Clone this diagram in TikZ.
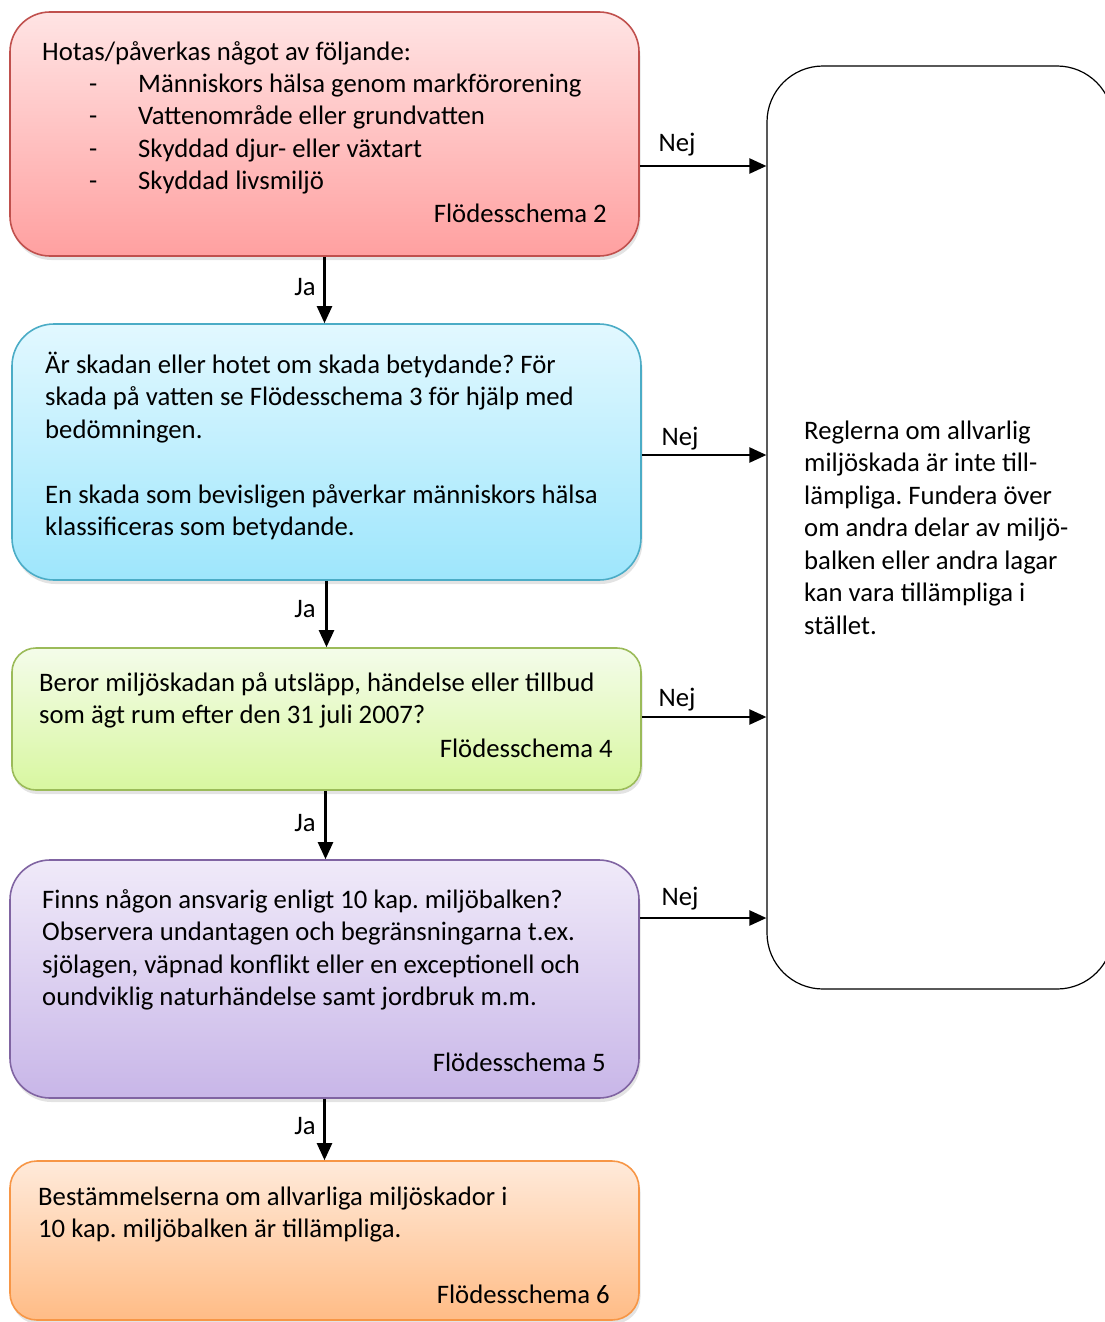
\documentclass[tikz,border=0pt]{standalone}
\usepackage{fontspec}
\setmainfont{Carlito}
\frenchspacing
\usetikzlibrary{shadows,arrows.meta}
\definecolor{redB}{RGB}{192,80,77}
\definecolor{redT}{RGB}{255,228,228}
\definecolor{redL}{RGB}{255,160,160}
\definecolor{bluB}{RGB}{75,172,198}
\definecolor{bluT}{RGB}{226,248,255}
\definecolor{bluL}{RGB}{158,230,252}
\definecolor{grnB}{RGB}{155,187,89}
\definecolor{grnT}{RGB}{244,252,234}
\definecolor{grnL}{RGB}{216,247,160}
\definecolor{purB}{RGB}{128,100,162}
\definecolor{purT}{RGB}{240,234,249}
\definecolor{purL}{RGB}{200,182,232}
\definecolor{orgB}{RGB}{247,150,70}
\definecolor{orgT}{RGB}{255,234,218}
\definecolor{orgL}{RGB}{255,188,134}
\begin{document}
\begin{tikzpicture}[x=1pt,y=-1pt,
  box/.style={draw, line width=1.6pt, inner sep=0pt,
    drop shadow={opacity=0.22, shadow xshift=1.5pt, shadow yshift=-4pt}},
  txt/.style={anchor=north west, inner sep=0pt, align=left, font=\fontsize{26.7}{32.5}\selectfont},
  rtxt/.style={anchor=base east, inner sep=0pt, font=\fontsize{26.7}{32.5}\selectfont},
  lab/.style={anchor=base, inner sep=0pt, font=\fontsize{26.7}{32.5}\selectfont},
  arr/.style={line width=2.3pt, -{Triangle[length=17pt,width=15pt]}}]
\useasboundingbox (0,0) rectangle (1104,1322);

% boxes
\node[box, draw=redB, top color=redT, bottom color=redL, rounded corners=40pt,
  minimum width=629pt, minimum height=244pt] (r1) at (324.5,134) {};
\node[box, draw=bluB, top color=bluT, bottom color=bluL, rounded corners=42pt,
  minimum width=629pt, minimum height=256pt] (b2) at (326.5,452) {};
\node[box, draw=grnB, top color=grnT, bottom color=grnL, rounded corners=24pt,
  minimum width=629pt, minimum height=142pt] (g3) at (326.5,719) {};
\node[box, draw=purB, top color=purT, bottom color=purL, rounded corners=40pt,
  minimum width=629pt, minimum height=238pt] (p4) at (324.5,979) {};
\node[box, draw=orgB, top color=orgT, bottom color=orgL, rounded corners=27pt,
  minimum width=629pt, minimum height=159pt] (o5) at (324.5,1240.5) {};
\node[draw=black, line width=1.2pt, fill=white, inner sep=0pt, rounded corners=56pt,
  minimum width=346pt, minimum height=923pt] (w) at (940,527.5) {};

% texts
\node[txt] (t1a) at (42,36) {\rule{0pt}{24pt}Hotas/påverkas något av följande:};
\node[txt] (t1b) at (89,68) {\rule{0pt}{24pt}\makebox[49pt][l]{-}Människors hälsa genom markförorening\\
  \makebox[49pt][l]{-}Vattenområde eller grundvatten\\
  \makebox[49pt][l]{-}Skyddad djur- eller växtart\\
  \makebox[49pt][l]{-}Skyddad livsmiljö};
\node[rtxt] (t1c) at (607,222) {Flödesschema 2};

\node[txt] (t2a) at (45,349) {\rule{0pt}{24pt}Är skadan eller hotet om skada betydande? För\\
  skada på vatten se Flödesschema 3 för hjälp med\\
  bedömningen.};
\node[txt] (t2b) at (45,479) {\rule{0pt}{24pt}En skada som bevisligen påverkar människors hälsa\\
  klassificeras som betydande.};

\node[txt] (t3a) at (39,667) {\rule{0pt}{24pt}Beror miljöskadan på utsläpp, händelse eller tillbud\\
  som ägt rum efter den 31 juli 2007?};
\node[rtxt] (t3b) at (613,757) {Flödesschema 4};

\node[txt] (t4a) at (42,884) {\rule{0pt}{24pt}Finns någon ansvarig enligt 10 kap. miljöbalken?\\
  Observera undantagen och begränsningarna t.ex.\\
  sjölagen, väpnad konflikt eller en exceptionell och\\
  oundviklig naturhändelse samt jordbruk m.m.};
\node[rtxt] (t4b) at (606,1071) {Flödesschema 5};

\node[txt] (t5a) at (38,1181) {\rule{0pt}{24pt}Bestämmelserna om allvarliga miljöskador i\\
  10 kap. miljöbalken är tillämpliga.};
\node[rtxt] (t5b) at (610,1303) {Flödesschema 6};

\node[txt] (t6) at (804,415) {\rule{0pt}{24pt}Reglerna om allvarlig\\
  miljöskada är inte till-\\
  lämpliga. Fundera över\\
  om andra delar av miljö-\\
  balken eller andra lagar\\
  kan vara tillämpliga i\\
  stället.};

% vertical arrows
\draw[arr] (r1.south) -- (r1.south |- b2.north);
\draw[arr] (b2.south) -- (b2.south |- g3.north);
\draw[arr] ([xshift=-1pt]g3.south) -- ([xshift=-1pt]g3.south |- p4.north);
\draw[arr] (p4.south) -- (p4.south |- o5.north);
\node[lab] (ja1) at (305,295) {Ja};
\node[lab] (ja2) at (305,617) {Ja};
\node[lab] (ja3) at (305,831) {Ja};
\node[lab] (ja4) at (305,1134) {Ja};

% horizontal arrows
\coordinate (n1) at ([yshift=-32pt]r1.east);
\coordinate (n2) at ([yshift=-3pt]b2.east);
\coordinate (n3) at ([yshift=2pt]g3.east);
\coordinate (n4) at ([yshift=61pt]p4.east);
\draw[arr] (n1) -- (n1 -| w.west);
\draw[arr] (n2) -- (n2 -| w.west);
\draw[arr] (n3) -- (n3 -| w.west);
\draw[arr] (n4) -- (n4 -| w.west);
\node[lab] (nej1) at (677,151) {Nej};
\node[lab] (nej2) at (680,445) {Nej};
\node[lab] (nej3) at (677,706) {Nej};
\node[lab] (nej4) at (680,905) {Nej};
\end{tikzpicture}
\end{document}
